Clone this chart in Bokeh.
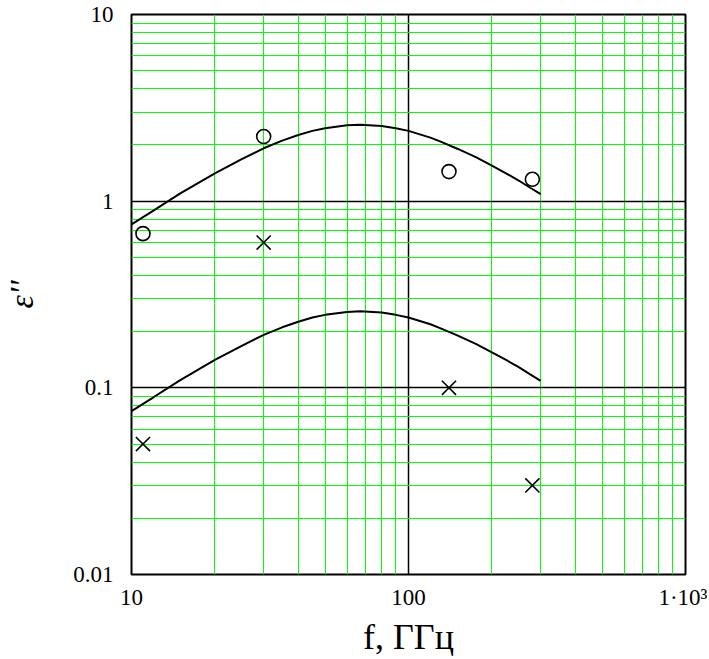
from bokeh.plotting import figure
from bokeh.models import FixedTicker, CustomJSTickFormatter
from bokeh.embed import file_html
from bokeh.resources import INLINE

# curve values (frequency in GHz)
freq_curve = [10, 12, 15, 20, 25, 30, 35, 40, 45, 50, 60, 67, 80, 90, 100, 120, 130, 150, 175, 200, 225, 250, 275, 300]
eps_upper = [0.75, 0.89, 1.10, 1.41, 1.68, 1.92, 2.11, 2.26, 2.38, 2.46, 2.55, 2.57, 2.53, 2.46, 2.38, 2.19, 2.09, 1.91, 1.72, 1.55, 1.41, 1.29, 1.18, 1.09]
eps_lower = [0.075, 0.089, 0.110, 0.141, 0.168, 0.192, 0.211, 0.226, 0.238, 0.246, 0.255, 0.257, 0.253, 0.246, 0.238, 0.219, 0.209, 0.191, 0.172, 0.155, 0.141, 0.129, 0.118, 0.109]

# measured points
freq_pts = [11, 30, 140, 280]
eps_circles = [0.67, 2.22, 1.44, 1.31]
eps_crosses = [0.05, 0.60, 0.10, 0.03]

x_major = [10, 100, 1000]
x_minor = [20, 30, 40, 50, 60, 70, 80, 90, 200, 300, 400, 500, 600, 700, 800, 900]
y_major = [0.01, 0.1, 1, 10]
y_minor = [0.02, 0.03, 0.04, 0.05, 0.06, 0.07, 0.08, 0.09,
           0.2, 0.3, 0.4, 0.5, 0.6, 0.7, 0.8, 0.9,
           2, 3, 4, 5, 6, 7, 8, 9]

SERIF = "Liberation Serif"

p = figure(width=707, height=659, x_axis_type="log", y_axis_type="log",
           x_range=(10, 1000), y_range=(0.01, 10),
           output_backend="svg", toolbar_location=None,
           min_border_left=130, min_border_right=22, min_border_top=14, min_border_bottom=85)

p.xaxis.ticker = FixedTicker(ticks=x_major, minor_ticks=x_minor)
p.yaxis.ticker = FixedTicker(ticks=y_major, minor_ticks=y_minor)
p.xaxis.formatter = CustomJSTickFormatter(code="return tick >= 1000 ? '1\u00b710\u00b3' : tick.toFixed(0);")
p.yaxis.formatter = CustomJSTickFormatter(code="return tick >= 1 ? tick.toFixed(0) : tick.toString();")

for ax in (p.xaxis, p.yaxis):
    ax.major_label_text_font = SERIF
    ax.major_label_text_font_size = "23px"
    ax.major_label_text_color = "black"
    ax.major_tick_line_color = None
    ax.minor_tick_line_color = None
    ax.axis_line_color = None
    ax.axis_label_text_font = SERIF
    ax.axis_label_text_color = "black"

p.xaxis.major_label_standoff = 4
p.yaxis.major_label_standoff = 12

p.xaxis.axis_label = "f, ГГц"
p.xaxis.axis_label_text_font_style = "normal"
p.xaxis.axis_label_text_font_size = "36px"
p.xaxis.axis_label_standoff = 4

p.yaxis.axis_label = "ε''"
p.yaxis.axis_label_text_font_style = "italic"
p.yaxis.axis_label_text_font_size = "34px"
p.yaxis.axis_label_standoff = 30

for g in (p.xgrid, p.ygrid):
    g.grid_line_color = "black"
    g.grid_line_width = 1.5
    g.minor_grid_line_color = "#00ff00"
    g.minor_grid_line_width = 1

p.outline_line_color = "black"
p.outline_line_width = 2
p.background_fill_color = "white"
p.border_fill_color = "white"

p.line(freq_curve, eps_upper, line_color="black", line_width=2)
p.line(freq_curve, eps_lower, line_color="black", line_width=2)
p.scatter(freq_pts, eps_circles, marker="circle", size=14, fill_color=None,
          line_color="black", line_width=1.6)
p.scatter(freq_pts, eps_crosses, marker="x", size=20, line_color="black", line_width=1.6)

open("out.html", "w").write(file_html(p, INLINE))
